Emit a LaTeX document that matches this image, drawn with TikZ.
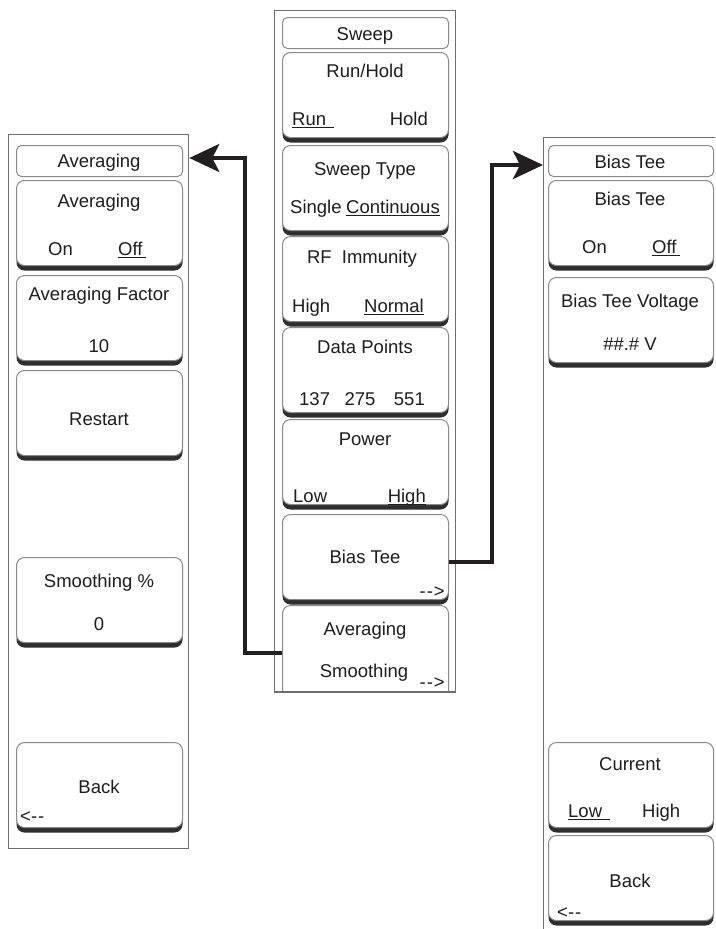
\documentclass[tikz,border=0pt]{standalone}
\usepackage{fontspec}
\setmainfont{Liberation Sans}
\usetikzlibrary{shadows,arrows.meta}
\definecolor{bordc}{HTML}{8A8A8A}
\definecolor{shadowc}{HTML}{2E2E2E}
\definecolor{framec}{HTML}{6E6E6E}
\definecolor{txtc}{HTML}{1E1E1E}
\definecolor{arrc}{HTML}{231F20}
\newcommand\myul[1]{\setbox0\hbox{#1}\rlap{\color{txtc}\rule[-2.5pt]{\wd0}{0.9pt}}\box0}
\begin{document}
\begin{tikzpicture}[x=1pt,y=-1pt,
  frame/.style={draw=framec, line width=1.3pt, rectangle, inner sep=0pt, anchor=north west},
  titlebox/.style={draw=bordc, line width=1pt, fill=white, rounded corners=5pt, inner sep=0pt, minimum height=31pt, anchor=north west},
  btn/.style={draw=bordc, line width=1pt, fill=white, rounded corners=8pt, inner sep=0pt, minimum height=85pt, anchor=north west, general shadow={fill=shadowc, shadow yshift=-5pt}},
  txt/.style={inner sep=0pt, text=txtc, font=\fontsize{18.5}{22}\selectfont, anchor=base},
  txtl/.style={txt, anchor=base west},
  txtr/.style={txt, anchor=base east},
  conn/.style={draw=arrc, line width=4pt, line join=miter, -{Stealth[length=30pt,width=28pt,inset=7pt]}}]
\useasboundingbox (0,0) rectangle (715,929);
\clip (0,0) rectangle (715,929);
\fill[white] (0,0) rectangle (715,929);

% frames
\node[frame, minimum width=181pt, minimum height=681pt] (mframe) at (274,10) {};
\node[frame, minimum width=180pt, minimum height=714pt] (lframe) at (8,134) {};
\node[frame, minimum width=260pt, minimum height=850pt] (rframe) at (543,137) {};

% middle column
\node[titlebox, minimum width=166pt] (m0) at (282,17) {};
\node[btn, minimum width=166pt] (m1) at (282,52) {};
\node[btn, minimum width=166pt] (m2) at (282,145) {};
\node[btn, minimum width=166pt] (m3) at (282,236) {};
\node[btn, minimum width=166pt] (m4) at (282,327) {};
\node[btn, minimum width=166pt] (m5) at (282,419) {};
\node[btn, minimum width=166pt] (m6) at (282,514) {};
\begin{scope}
\clip (274,10) rectangle (455,690);
\node[btn, minimum width=166pt, minimum height=95pt] (m7) at (282,605) {};
\end{scope}
\draw[framec, line width=1.3pt] (mframe.south west) -- (mframe.south east);

\node[txt] (tm0) at (365,40) {Sweep};
\node[txt] (tm1) at (365,77) {Run/Hold};
\node[txtl] (tm1a) at (292,125) {\myul{Run\hspace{8pt}}};
\node[txtr] (tm1b) at (428,125) {Hold};
\node[txt] (tm2) at (365,175) {Sweep Type};
\node[txtl] (tm2a) at (290,213) {Single};
\node[txtr] (tm2b) at (440,213) {\myul{Continuous}};
\node[txt] (tm3) at (362,263) {RF\hspace{5pt} Immunity};
\node[txtl] (tm3a) at (292,312) {High};
\node[txtr] (tm3b) at (424,312) {\myul{Normal}};
\node[txt] (tm4) at (365,353) {Data Points};
\node[txtl] (tm4a) at (299,405) {137};
\node[txt] (tm4b) at (360,405) {275};
\node[txtr] (tm4c) at (425,405) {551};
\node[txt] (tm5) at (365,445) {Power};
\node[txtl] (tm5a) at (293,502) {Low};
\node[txtr] (tm5b) at (426,502) {\myul{High}};
\node[txt] (tm6) at (365,563) {Bias Tee};
\node[txtr] (tm6a) at (445,597) {-\hspace{1pt}-\hspace{1pt}>};
\node[txt] (tm7) at (365,635) {Averaging};
\node[txt] (tm7a) at (364,677) {Smoothing};
\node[txtr] (tm7b) at (445,688) {-\hspace{1pt}-\hspace{1pt}>};

% left column
\node[titlebox, minimum width=166pt] (l0) at (16,145) {};
\node[btn, minimum width=166pt] (l1) at (16,180) {};
\node[btn, minimum width=166pt] (l2) at (16,275) {};
\node[btn, minimum width=166pt] (l3) at (16,370) {};
\node[btn, minimum width=166pt] (l4) at (16,557) {};
\node[btn, minimum width=166pt] (l5) at (16,742) {};

\node[txt] (tl0) at (99,167) {Averaging};
\node[txt] (tl1) at (99,207) {Averaging};
\node[txtl] (tl1a) at (48,255) {On};
\node[txtl] (tl1b) at (118,255) {\myul{Off\hspace{3pt}}};
\node[txt] (tl2) at (99,300) {Averaging Factor};
\node[txt] (tl2a) at (99,352) {10};
\node[txt] (tl3) at (99,425) {Restart};
\node[txt] (tl4) at (99,587) {Smoothing \%};
\node[txt] (tl4a) at (99,630) {0};
\node[txt] (tl5) at (99,793) {Back};
\node[txtl] (tl5a) at (20,822) {<-\hspace{1pt}-};

% right column
\node[titlebox, minimum width=165pt] (r0) at (548,145) {};
\node[btn, minimum width=165pt] (r1) at (548,180) {};
\node[btn, minimum width=165pt] (r2) at (548,277) {};
\node[btn, minimum width=165pt] (r3) at (548,742) {};
\node[btn, minimum width=165pt] (r4) at (548,835) {};

\node[txt] (tr0) at (630,168) {Bias Tee};
\node[txt] (tr1) at (630,205) {Bias Tee};
\node[txtl] (tr1a) at (582,253) {On};
\node[txtl] (tr1b) at (652,253) {\myul{Off\hspace{3pt}}};
\node[txt] (tr2) at (630,307) {Bias Tee Voltage};
\node[txt] (tr2a) at (630,350) {\#\#.\# V};
\node[txt] (tr3) at (630,770) {Current};
\node[txtl] (tr3a) at (568,817) {\myul{Low\hspace{8pt}}};
\node[txtl] (tr3b) at (642,817) {High};
\node[txt] (tr4) at (630,887) {Back};
\node[txtl] (tr4a) at (557,918) {<-\hspace{1pt}-};

% connectors
\coordinate (la) at (245,158);
\coordinate (ra) at (492,165);
\draw[conn] ([yshift=-6pt]m7.west |- 0,647) -| (la) -- (lframe.east |- la);
\draw[conn] ([yshift=-5pt]m6.east) -| (ra) -- (rframe.west |- ra);
\end{tikzpicture}
\end{document}
